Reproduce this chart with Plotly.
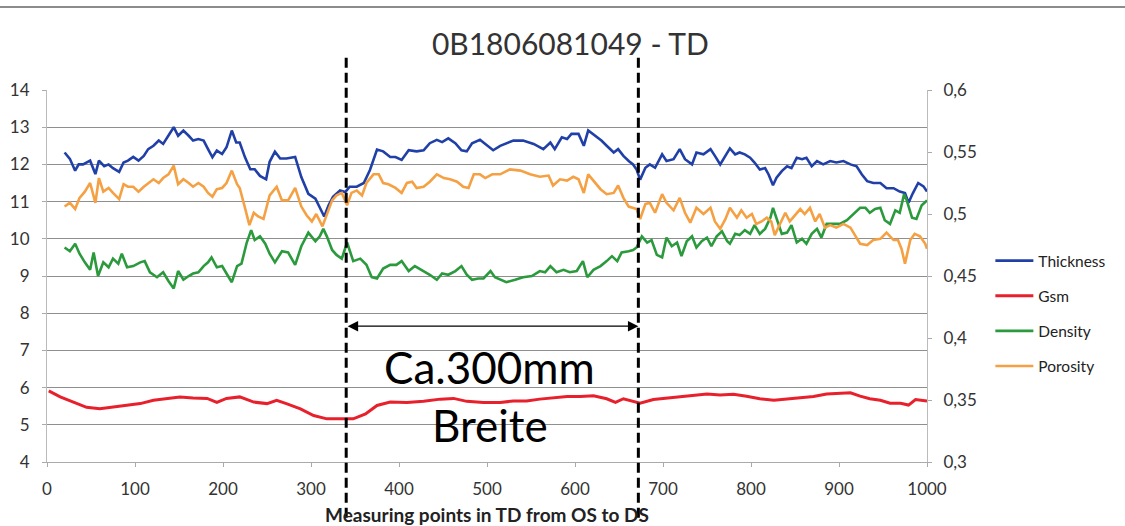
import plotly.graph_objects as go

TITLE = "0B1806081049 - TD"
X_TITLE = "Measuring points in TD from OS to DS"

# Thickness (left axis)
thick_x = [20, 26, 32, 36, 41, 49, 55, 59, 65, 70, 75, 82, 87, 92, 98, 104, 110, 115, 121, 127,
           132, 138, 144, 149, 155, 161, 166, 172, 178, 183, 188, 193, 199, 204, 210, 215, 219, 225,
           231, 236, 242, 249, 253, 259, 265, 272, 282, 289, 297, 305, 310, 315, 320, 325, 333, 339,
           344, 352, 360, 367, 375, 382, 390, 396, 403, 411, 420, 428, 435, 443, 449, 456, 464, 471,
           477, 483, 492, 500, 507, 515, 530, 541, 553, 564, 572, 577, 585, 591, 596, 604, 610, 615,
           623, 630, 636, 644, 649, 655, 661, 666, 670, 674, 680, 685, 691, 699, 704, 712, 719, 725,
           733, 738, 746, 754, 759, 765, 776, 782, 787, 793, 799, 804, 810, 816, 820, 825, 829, 835,
           841, 846, 852, 858, 863, 869, 875, 882, 890, 897, 905, 913, 920, 926, 932, 939, 947, 954,
           962, 969, 975, 979, 984, 990, 996, 1000]
thick_y = [12.32, 12.15, 11.83, 12.0, 12.0, 12.1, 11.74, 12.1, 11.95, 12.0, 11.9, 11.8, 12.05, 12.1,
           12.2, 12.1, 12.23, 12.41, 12.5, 12.64, 12.55, 12.77, 13.0, 12.77, 12.91, 12.77, 12.64,
           12.68, 12.64, 12.41, 12.19, 12.37, 12.28, 12.46, 12.91, 12.59, 12.59, 12.19, 11.87, 11.87,
           11.69, 11.6, 12.07, 12.34, 12.16, 12.16, 12.2, 11.66, 11.21, 11.08, 10.85, 10.6, 10.9,
           11.13, 11.3, 11.26, 11.4, 11.4, 11.5, 11.85, 12.4, 12.35, 12.2, 12.2, 12.12, 12.38, 12.35,
           12.38, 12.57, 12.66, 12.6, 12.7, 12.57, 12.38, 12.35, 12.57, 12.66, 12.52, 12.38, 12.5,
           12.64, 12.64, 12.55, 12.41, 12.59, 12.41, 12.73, 12.68, 12.82, 12.82, 12.5, 12.91, 12.77,
           12.64, 12.5, 12.32, 12.41, 12.23, 12.09, 12.0, 11.86, 11.59, 11.91, 12.0, 11.91, 12.27,
           12.09, 12.14, 12.41, 12.14, 12.0, 12.32, 12.27, 12.41, 12.23, 12.0, 12.43, 12.27, 12.32,
           12.27, 12.18, 12.05, 11.86, 11.9, 11.73, 11.44, 11.64, 11.82, 11.95, 11.9, 12.18, 12.14,
           12.18, 11.95, 12.09, 12.0, 12.09, 12.05, 12.09, 12.0, 11.95, 11.73, 11.55, 11.5, 11.5,
           11.36, 11.36, 11.27, 11.23, 10.97, 11.23, 11.5, 11.41, 11.27]

# Gsm (left axis)
gsm_x = [2, 15, 30, 45, 60, 75, 91, 106, 121, 136, 151, 166, 182, 193, 204, 219, 235, 250, 261,
         272, 288, 303, 318, 333, 348, 362, 375, 390, 409, 428, 447, 462, 477, 496, 515, 530, 545,
         560, 575, 591, 606, 621, 636, 646, 655, 666, 674, 689, 704, 719, 735, 750, 765, 780, 795,
         810, 826, 841, 856, 871, 886, 901, 913, 924, 935, 947, 958, 970, 979, 987, 1000]
gsm_y = [5.91, 5.75, 5.61, 5.47, 5.43, 5.47, 5.52, 5.57, 5.66, 5.71, 5.75, 5.72, 5.71, 5.6, 5.71,
         5.75, 5.61, 5.57, 5.66, 5.57, 5.43, 5.25, 5.16, 5.16, 5.16, 5.29, 5.52, 5.61, 5.6, 5.63,
         5.69, 5.71, 5.63, 5.6, 5.6, 5.64, 5.64, 5.69, 5.72, 5.76, 5.76, 5.78, 5.7, 5.6, 5.7, 5.64,
         5.58, 5.68, 5.72, 5.76, 5.8, 5.83, 5.8, 5.82, 5.77, 5.7, 5.66, 5.7, 5.73, 5.76, 5.83, 5.84,
         5.86, 5.77, 5.7, 5.66, 5.58, 5.58, 5.53, 5.68, 5.64]

# Density (right axis)
dens_x = [20, 26, 32, 37, 43, 49, 53, 58, 64, 70, 75, 81, 85, 91, 98, 106, 111, 117, 125, 132, 138,
          144, 149, 155, 161, 166, 172, 178, 183, 187, 193, 199, 204, 210, 216, 221, 227, 232, 236,
          242, 248, 253, 259, 267, 274, 282, 289, 297, 305, 310, 314, 318, 324, 329, 335, 341, 348,
          356, 363, 369, 375, 382, 390, 397, 403, 411, 418, 428, 435, 443, 449, 456, 464, 471, 477,
          483, 490, 496, 504, 509, 515, 522, 532, 541, 551, 560, 566, 572, 579, 587, 594, 602, 609,
          614, 621, 629, 636, 642, 648, 653, 661, 666, 670, 676, 682, 687, 693, 699, 704, 710, 716,
          721, 727, 733, 738, 744, 750, 755, 761, 767, 773, 776, 782, 787, 793, 799, 804, 810, 816,
          822, 825, 829, 835, 841, 846, 852, 858, 863, 869, 875, 880, 886, 894, 901, 909, 916, 924,
          930, 935, 941, 947, 952, 958, 964, 969, 974, 977, 983, 988, 994, 1000]
dens_y = [0.473, 0.470, 0.476, 0.468, 0.461, 0.455, 0.469, 0.450, 0.461, 0.457, 0.464, 0.460, 0.468,
          0.457, 0.458, 0.461, 0.462, 0.453, 0.449, 0.453, 0.446, 0.440, 0.454, 0.447, 0.450, 0.452,
          0.453, 0.458, 0.461, 0.465, 0.457, 0.458, 0.452, 0.445, 0.458, 0.460, 0.477, 0.487, 0.479,
          0.482, 0.476, 0.468, 0.461, 0.470, 0.469, 0.459, 0.474, 0.485, 0.478, 0.482, 0.488, 0.482,
          0.471, 0.467, 0.464, 0.477, 0.462, 0.464, 0.459, 0.449, 0.448, 0.456, 0.459, 0.459, 0.462,
          0.454, 0.458, 0.454, 0.451, 0.447, 0.452, 0.451, 0.454, 0.458, 0.451, 0.447, 0.448, 0.448,
          0.454, 0.449, 0.447, 0.445, 0.447, 0.449, 0.450, 0.454, 0.453, 0.458, 0.453, 0.455, 0.453,
          0.454, 0.462, 0.449, 0.455, 0.458, 0.462, 0.466, 0.462, 0.469, 0.470, 0.471, 0.473, 0.482,
          0.477, 0.479, 0.467, 0.465, 0.481, 0.474, 0.477, 0.466, 0.478, 0.482, 0.473, 0.478, 0.481,
          0.474, 0.482, 0.486, 0.478, 0.476, 0.484, 0.483, 0.487, 0.484, 0.491, 0.484, 0.488, 0.497,
          0.505, 0.496, 0.484, 0.485, 0.491, 0.477, 0.480, 0.476, 0.484, 0.488, 0.481, 0.492, 0.492,
          0.492, 0.495, 0.500, 0.505, 0.505, 0.501, 0.504, 0.505, 0.495, 0.492, 0.503, 0.501, 0.516,
          0.511, 0.497, 0.496, 0.507, 0.511]

# Porosity (right axis)
poro_x = [20, 26, 32, 37, 43, 49, 55, 59, 64, 70, 75, 82, 87, 92, 98, 104, 110, 115, 121, 127, 132,
          138, 144, 149, 155, 161, 166, 172, 178, 183, 188, 193, 199, 204, 210, 216, 219, 225, 230,
          235, 240, 246, 253, 261, 267, 274, 282, 289, 295, 301, 306, 313, 318, 324, 329, 335, 341,
          346, 352, 358, 363, 371, 377, 382, 388, 396, 403, 409, 415, 420, 428, 435, 443, 451, 458,
          466, 473, 479, 485, 492, 498, 506, 515, 526, 538, 549, 560, 570, 575, 583, 591, 598, 604,
          610, 615, 621, 629, 636, 644, 649, 655, 661, 666, 670, 674, 680, 685, 691, 699, 704, 712,
          719, 725, 731, 738, 746, 754, 759, 765, 771, 776, 784, 789, 795, 801, 806, 812, 818, 823,
          827, 833, 839, 844, 850, 856, 861, 867, 873, 878, 884, 890, 897, 905, 913, 918, 924, 932,
          939, 947, 954, 962, 967, 971, 975, 981, 986, 992, 998, 1000]
poro_y = [0.506, 0.509, 0.504, 0.513, 0.518, 0.525, 0.509, 0.529, 0.518, 0.521, 0.517, 0.512, 0.524,
          0.522, 0.522, 0.518, 0.522, 0.525, 0.528, 0.525, 0.529, 0.532, 0.539, 0.524, 0.528, 0.525,
          0.522, 0.525, 0.522, 0.517, 0.514, 0.520, 0.521, 0.525, 0.535, 0.524, 0.521, 0.505, 0.491,
          0.501, 0.498, 0.496, 0.515, 0.522, 0.511, 0.511, 0.521, 0.506, 0.499, 0.494, 0.500, 0.490,
          0.500, 0.511, 0.515, 0.517, 0.507, 0.517, 0.519, 0.515, 0.525, 0.532, 0.532, 0.525, 0.524,
          0.521, 0.517, 0.525, 0.526, 0.521, 0.522, 0.526, 0.532, 0.529, 0.528, 0.526, 0.522, 0.521,
          0.532, 0.532, 0.529, 0.532, 0.532, 0.536, 0.535, 0.532, 0.530, 0.531, 0.523, 0.528, 0.527,
          0.530, 0.528, 0.517, 0.532, 0.527, 0.520, 0.516, 0.517, 0.523, 0.513, 0.506, 0.505, 0.504,
          0.496, 0.508, 0.509, 0.501, 0.516, 0.509, 0.503, 0.513, 0.501, 0.493, 0.505, 0.500, 0.505,
          0.494, 0.488, 0.496, 0.505, 0.497, 0.503, 0.497, 0.500, 0.492, 0.494, 0.497, 0.494, 0.483,
          0.492, 0.501, 0.494, 0.499, 0.504, 0.500, 0.505, 0.494, 0.500, 0.489, 0.491, 0.489, 0.492,
          0.489, 0.483, 0.476, 0.475, 0.479, 0.480, 0.485, 0.479, 0.479, 0.472, 0.460, 0.479, 0.484,
          0.482, 0.476, 0.472]

x_ticks = [0, 100, 200, 300, 400, 500, 600, 700, 800, 900, 1000]
left_ticks = [4, 5, 6, 7, 8, 9, 10, 11, 12, 13, 14]
right_ticks = [0.3, 0.35, 0.4, 0.45, 0.5, 0.55, 0.6]
right_labels = ["0,3", "0,35", "0,4", "0,45", "0,5", "0,55", "0,6"]

zone_start, zone_end = 340, 672
arrow_level = 7.65
label1, label2 = "Ca.300mm", "Breite"
label_x, label1_y, label2_y = 503, 6.55, 5.0

FONT = "Lato, 'Open Sans', sans-serif"
colors = {"Thickness": "#2040a8", "Gsm": "#e8202c", "Density": "#2a9a3c", "Porosity": "#f5a143"}

fig = go.Figure()
fig.add_trace(go.Scatter(x=thick_x, y=thick_y, name="Thickness", mode="lines",
                         line=dict(color=colors["Thickness"], width=2.6), legendgroup="a"))
fig.add_trace(go.Scatter(x=gsm_x, y=gsm_y, name="Gsm", mode="lines",
                         line=dict(color=colors["Gsm"], width=3), legendgroup="b"))
fig.add_trace(go.Scatter(x=dens_x, y=dens_y, name="Density", mode="lines", yaxis="y2",
                         line=dict(color=colors["Density"], width=2.6), legendgroup="c"))
fig.add_trace(go.Scatter(x=poro_x, y=poro_y, name="Porosity", mode="lines", yaxis="y2",
                         line=dict(color=colors["Porosity"], width=2.6), legendgroup="d"))

dash_style = dict(color="black", width=3, dash="10px,5px")
for xv in (zone_start, zone_end):
    fig.add_shape(type="line", xref="x", yref="paper", x0=xv, x1=xv, y0=-0.15, y1=1.094,
                  line=dash_style, layer="above")
fig.add_shape(type="line", xref="paper", yref="paper", x0=-0.1, x1=1.3, y0=1.223, y1=1.223,
              line=dict(color="#666", width=1.5))

fig.add_annotation(x=zone_end, y=arrow_level, ax=zone_start, ay=arrow_level, axref="x", ayref="y",
                   xref="x", yref="y", text="", showarrow=True, arrowhead=2, arrowside="end+start",
                   arrowsize=1.6, arrowwidth=1.3, arrowcolor="black", standoff=0, startstandoff=0)
fig.add_annotation(x=label_x, y=label1_y, xref="x", yref="y", text=label1, showarrow=False,
                   font=dict(family=FONT, size=44, color="black"))
fig.add_annotation(x=label_x, y=label2_y, xref="x", yref="y", text=label2, showarrow=False,
                   font=dict(family=FONT, size=44, color="black"))

fig.update_layout(
    width=1125, height=526,
    margin=dict(l=47, r=198, t=90, b=64),
    paper_bgcolor="white", plot_bgcolor="white",
    font=dict(family=FONT, size=17, color="#333"),
    title=dict(text=TITLE, x=0.507, xref="container", y=0.915, yref="container",
               xanchor="center", yanchor="middle",
               font=dict(family=FONT, size=30, color="#333")),
    xaxis=dict(range=[0, 1000], tickvals=x_ticks, showgrid=False, zeroline=False, automargin=False,
               showline=True, linecolor="#aaa", linewidth=1, ticks="outside", ticklen=4,
               tickcolor="#aaa", ticklabelstandoff=8, tickfont=dict(size=17, color="#333"),
               title=dict(text="<b>" + X_TITLE + "</b>", standoff=12,
                          font=dict(size=19, color="#222"))),
    yaxis=dict(range=[4, 14], tickvals=left_ticks, showgrid=True, gridcolor="#8f8f8f", gridwidth=1,
               zeroline=False, showline=True, linecolor="#bbb", ticks="outside", ticklen=4,
               tickcolor="#aaa", ticklabelstandoff=9, automargin=False,
               tickfont=dict(size=17, color="#333")),
    yaxis2=dict(range=[0.3, 0.6], overlaying="y", side="right", tickvals=right_ticks,
                ticktext=right_labels, showgrid=False, zeroline=False, showline=True,
                linecolor="#bbb", ticks="outside", ticklen=4, tickcolor="#aaa", automargin=False,
                ticklabelstandoff=8, tickfont=dict(size=17, color="#333")),
    legend=dict(x=1.072, xanchor="left", y=0.586, yanchor="top", tracegroupgap=12,
                font=dict(size=15.5, color="#222"), itemwidth=38, bgcolor="rgba(0,0,0,0)"),
    showlegend=True,
)

fig.write_html("out.html", config={"displayModeBar": False},
               post_script="document.body.style.margin='0';document.body.style.overflow='hidden';")
